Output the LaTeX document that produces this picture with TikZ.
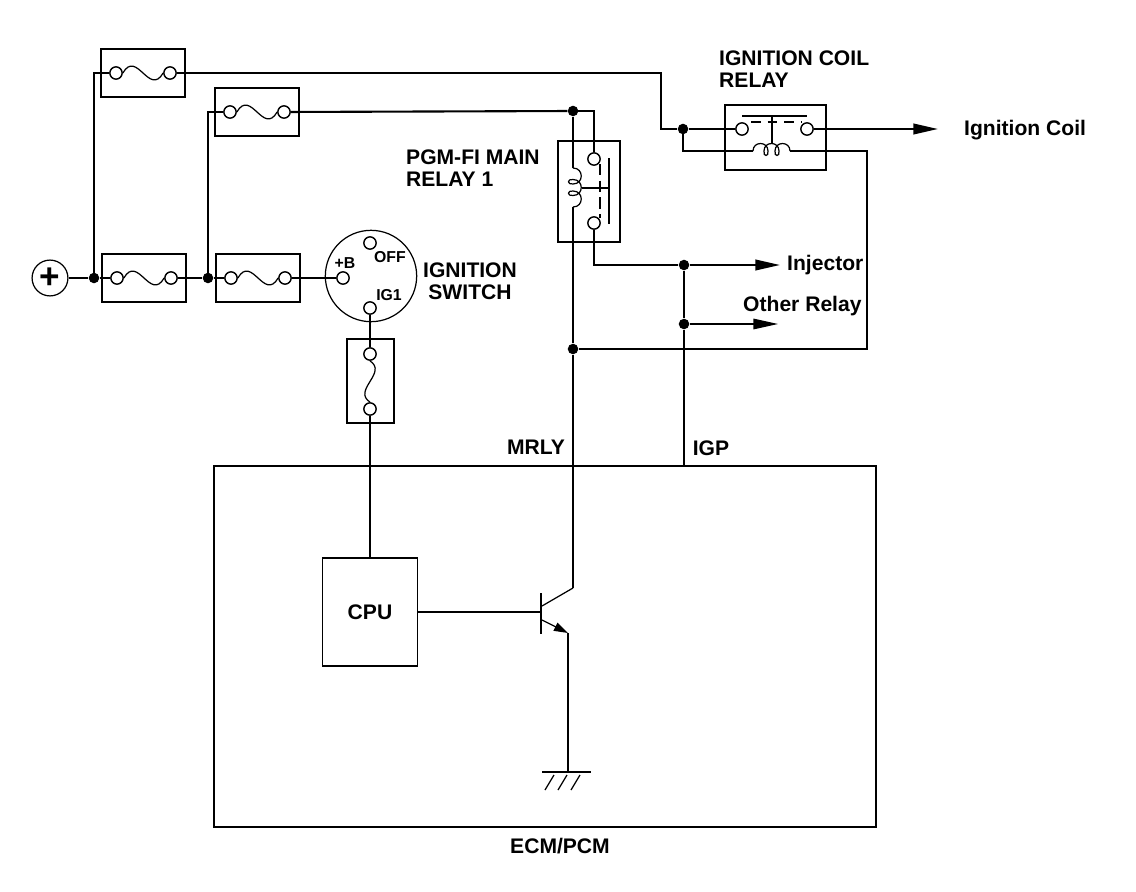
\documentclass[tikz,border=0pt]{standalone}
\usepackage{fontspec}
\setmainfont{Liberation Sans}
\usetikzlibrary{arrows.meta}

\begin{document}
\begin{tikzpicture}[x=0.02cm,y=-0.02cm,
    wire/.style={line width=1.2pt},
    lead/.style={line width=0.7pt},
    boxline/.style={line width=1.1pt},
    term/.style={circle,draw,line width=0.8pt,inner sep=0pt,minimum size=7pt},
    jdot/.style={circle,fill,inner sep=0pt,minimum size=6pt},
    lbl/.style={font=\bfseries\fontsize{12}{12.5}\selectfont},
    tlbl/.style={font=\bfseries\fontsize{9}{10}\selectfont,inner sep=0pt},
    arrowto/.style={-{Triangle[length=14pt,width=6pt]}}]
    \useasboundingbox (0,0) rectangle (1136,892);

    % battery and junctions
    \node[circle,draw,lead,minimum size=20.4pt,inner sep=0pt,font=\bfseries\fontsize{20}{20}\selectfont] (batt) at (50,278) {+};
    \node[jdot] (ja) at (94,278) {};
    \node[jdot] (jb) at (208,278) {};

    % fuses
    \foreach \n/\x/\y in {fa/143/73, fb/257/112, fc/144/278, fd/258/278}{
        \draw[boxline] (\x-42,\y-24) rectangle (\x+42,\y+24);
        \node[term] (\n l) at (\x-27,\y) {};
        \node[term] (\n r) at (\x+27,\y) {};
        \draw[lead] (\n l.east) .. controls +(14,-24) and +(-14,24) .. (\n r.west);
    }
    \draw[lead] (batt) -- (ja) -- (fcl);
    \draw[lead] (fcr) -- (jb) -- (fdl);
    \draw[wire] (ja.center) |- (fal);
    \draw[wire] (jb.center) |- (fbl);

    % ignition switch
    \node[circle,draw,lead,minimum size=52pt,inner sep=0pt] (igsw) at (371,276) {};
    \node[term] (swb) at (343,278) {};
    \node[term] (swoff) at (370,243) {};
    \node[term] (swig) at (370,308) {};
    \draw[lead] (fdr) -- (swb);
    \node[tlbl] at (345,263) {+B};
    \node[tlbl] at (390,257) {OFF};
    \node[tlbl] at (389,295) {IG1};
    \node[lbl,align=center] at (470,281) {IGNITION\\SWITCH};

    % fuse to the CPU
    \draw[lead] (347,339) rectangle (394,423);
    \node[term] (fvt) at (370,354) {};
    \node[term] (fvb) at (370,409) {};
    \draw[lead] (fvt.south) .. controls +(18,12) and +(-18,-12) .. (fvb.north);

    % ECM/PCM
    \draw[boxline] (214,466) rectangle (876,827);
    \node[lbl] (ecm) at (560,846) {ECM/PCM};
    \node[draw,boxline,minimum width=1.9cm,minimum height=2.16cm,lbl] (cpu) at (370,612) {CPU};
    \draw[lead] (swig) -- (fvt);
    \draw[lead] (fvb) -- (cpu);

    % transistor and ground
    \coordinate (tbase) at (541,612);
    \coordinate (tc) at (573,588);
    \coordinate (te) at (568,633);
    \coordinate (gnd) at (568,772);
    \draw[wire] (541,593) -- (541,634);
    \draw[wire] (cpu) -- (tbase);
    \draw[lead] (542,606) -- (tc);
    \draw[lead,-{Triangle[length=8pt,width=5pt]}] (542,620) -- (te);
    \draw[lead] (te) -- (gnd);
    \draw[wire] (542,772) -- (591,772);
    \foreach \x in {545,558,571}{
        \draw[lead] (\x,790) -- (\x+9,775);
    }

    % PGM-FI main relay 1
    \draw[boxline] (558,141) rectangle (620,242);
    \node[term] (r1a) at (594,159) {};
    \node[term] (r1b) at (594,223) {};
    \node[jdot] (j1) at (573,111) {};
    \coordinate (c1top) at (573,168);
    \coordinate (c1bot) at (573,207);
    \draw[wire] (fbr) -- (j1);
    \draw[lead] (j1.center) -| (r1a);
    \draw[wire] (j1) -- (c1top);
    \draw[lead] (c1top) .. controls +(11,0) and +(11,0) .. (573,184)
        .. controls +(-6,1) and +(-6,-1) .. (573,179.5)
        .. controls +(11,0) and +(11,0) .. (573,195.5)
        .. controls +(-6,1) and +(-6,-1) .. (573,191)
        .. controls +(11,0) and +(11,0) .. (c1bot);
    \draw[lead] (582,188) -- (609,188);
    \draw[wire] (609,158) -- (609,224);
    \draw[wire,dash pattern=on 6.5pt off 3pt] (600,164) -- (600,218);
    \node[lbl,align=left,anchor=west] at (400,168) {PGM-FI MAIN\\RELAY 1};

    % ignition coil relay
    \draw[boxline] (725,105) rectangle (826,170);
    \node[term] (r2a) at (742,129) {};
    \node[term] (r2b) at (807,129) {};
    \node[jdot] (j2) at (683,129) {};
    \coordinate (bend) at (661,129);
    \coordinate (c2l) at (753,151);
    \coordinate (c2r) at (790,151);
    \coordinate (c2out) at (826,151);
    \draw[wire] (742,116) -- (807,116);
    \draw[wire,dash pattern=on 5.5pt off 4pt] (751,122) -- (802,122);
    \draw[lead] (772,116) -- (772,143);
    \draw[wire] (far) -| (bend) -- (j2) -- (r2a);
    \draw[lead] (j2.center) |- (c2l);
    \draw[lead] (c2l) .. controls +(0,-10) and +(0,-10) .. (768,151)
        .. controls +(1,6) and +(-1,6) .. (764,151)
        .. controls +(0,-10) and +(0,-10) .. (779,151)
        .. controls +(1,6) and +(-1,6) .. (775,151)
        .. controls +(0,-10) and +(0,-10) .. (c2r);
    \draw[lead] (c2r) -- (c2out);
    \node[lbl,align=left,anchor=west] at (713,69) {IGNITION COIL\\RELAY};

    % outputs
    \node[jdot] (j3) at (684,265) {};
    \node[jdot] (j4) at (684,324) {};
    \node[jdot] (j5) at (573,349) {};
    \coordinate (igc) at (938,129);
    \coordinate (inj) at (780,265);
    \coordinate (oth) at (778,324);
    \coordinate (igp) at (684,466);
    \draw[wire,arrowto] (r2b) -- (igc);
    \draw[wire] (r1b) |- (j3);
    \draw[wire,arrowto] (j3) -- (inj);
    \draw[lead,arrowto] (j4) -- (oth);
    \draw[lead] (j3) -- (j4) -- (igp);
    \draw[lead] (c1bot) -- (j5) -- (tc);
    \draw[wire] (c2out) -| (867,349) -- (j5);
    \node[lbl,anchor=west] at (958,130) {Ignition Coil};
    \node[lbl,anchor=west] at (781,265) {Injector};
    \node[lbl,anchor=west] at (737,306) {Other Relay};
    \node[lbl] at (536,447) {MRLY};
    \node[lbl] at (711,448) {IGP};
\end{tikzpicture}
\end{document}
